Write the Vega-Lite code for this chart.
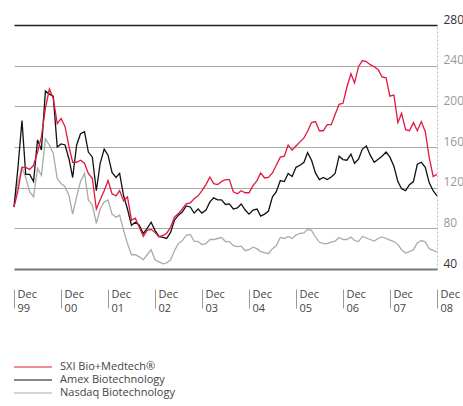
{
  "$schema": "https://vega.github.io/schema/vega-lite/v6.json",
  "width": 423,
  "height": 244,
  "autosize": "none",
  "padding": {"left": 14, "top": 25, "right": 26, "bottom": 137},
  "config": {"view": {"stroke": null}, "font": "Open Sans"},
  "data": {"values": [
    {"d": "1999-12-01", "sxi": 101, "amex": 101, "nasdaq": 101},
    {"d": "2000-01-01", "sxi": 117, "amex": 140, "nasdaq": 125},
    {"d": "2000-02-01", "sxi": 140, "amex": 186, "nasdaq": 140},
    {"d": "2000-03-01", "sxi": 140, "amex": 133, "nasdaq": 130},
    {"d": "2000-04-01", "sxi": 138, "amex": 133, "nasdaq": 116},
    {"d": "2000-05-01", "sxi": 142, "amex": 126, "nasdaq": 111},
    {"d": "2000-06-01", "sxi": 155, "amex": 167, "nasdaq": 139},
    {"d": "2000-07-01", "sxi": 170, "amex": 157, "nasdaq": 132},
    {"d": "2000-08-01", "sxi": 198, "amex": 215, "nasdaq": 168},
    {"d": "2000-09-01", "sxi": 217, "amex": 212, "nasdaq": 162},
    {"d": "2000-10-01", "sxi": 208, "amex": 210, "nasdaq": 154},
    {"d": "2000-11-01", "sxi": 183, "amex": 160, "nasdaq": 129},
    {"d": "2000-12-01", "sxi": 188, "amex": 163, "nasdaq": 124},
    {"d": "2001-01-01", "sxi": 180, "amex": 162, "nasdaq": 121},
    {"d": "2001-02-01", "sxi": 160, "amex": 148, "nasdaq": 112},
    {"d": "2001-03-01", "sxi": 145, "amex": 130, "nasdaq": 94},
    {"d": "2001-04-01", "sxi": 145, "amex": 162, "nasdaq": 111},
    {"d": "2001-05-01", "sxi": 147, "amex": 173, "nasdaq": 126},
    {"d": "2001-06-01", "sxi": 144, "amex": 175, "nasdaq": 134},
    {"d": "2001-07-01", "sxi": 134, "amex": 155, "nasdaq": 108},
    {"d": "2001-08-01", "sxi": 129, "amex": 150, "nasdaq": 103},
    {"d": "2001-09-01", "sxi": 99, "amex": 117, "nasdaq": 85},
    {"d": "2001-10-01", "sxi": 108, "amex": 144, "nasdaq": 99},
    {"d": "2001-11-01", "sxi": 117, "amex": 158, "nasdaq": 106},
    {"d": "2001-12-01", "sxi": 127, "amex": 152, "nasdaq": 108},
    {"d": "2002-01-01", "sxi": 114, "amex": 135, "nasdaq": 94},
    {"d": "2002-02-01", "sxi": 112, "amex": 130, "nasdaq": 91},
    {"d": "2002-03-01", "sxi": 117, "amex": 134, "nasdaq": 93},
    {"d": "2002-04-01", "sxi": 107, "amex": 112, "nasdaq": 78},
    {"d": "2002-05-01", "sxi": 111, "amex": 99, "nasdaq": 65},
    {"d": "2002-06-01", "sxi": 88, "amex": 83, "nasdaq": 54},
    {"d": "2002-07-01", "sxi": 90, "amex": 86, "nasdaq": 54},
    {"d": "2002-08-01", "sxi": 81, "amex": 83, "nasdaq": 52},
    {"d": "2002-09-01", "sxi": 72, "amex": 75, "nasdaq": 49},
    {"d": "2002-10-01", "sxi": 78, "amex": 80, "nasdaq": 54},
    {"d": "2002-11-01", "sxi": 79, "amex": 86, "nasdaq": 59},
    {"d": "2002-12-01", "sxi": 76, "amex": 78, "nasdaq": 49},
    {"d": "2003-01-01", "sxi": 71.5, "amex": 72, "nasdaq": 47},
    {"d": "2003-02-01", "sxi": 73, "amex": 71, "nasdaq": 45},
    {"d": "2003-03-01", "sxi": 75, "amex": 70, "nasdaq": 46},
    {"d": "2003-04-01", "sxi": 81, "amex": 76, "nasdaq": 49},
    {"d": "2003-05-01", "sxi": 91, "amex": 88, "nasdaq": 58},
    {"d": "2003-06-01", "sxi": 94.5, "amex": 93, "nasdaq": 65},
    {"d": "2003-07-01", "sxi": 99, "amex": 96, "nasdaq": 68},
    {"d": "2003-08-01", "sxi": 104, "amex": 102, "nasdaq": 73},
    {"d": "2003-09-01", "sxi": 105, "amex": 101, "nasdaq": 74},
    {"d": "2003-10-01", "sxi": 109, "amex": 95, "nasdaq": 67.5},
    {"d": "2003-11-01", "sxi": 112, "amex": 99, "nasdaq": 67},
    {"d": "2003-12-01", "sxi": 117, "amex": 95, "nasdaq": 64},
    {"d": "2004-01-01", "sxi": 123, "amex": 98, "nasdaq": 65},
    {"d": "2004-02-01", "sxi": 130.5, "amex": 106, "nasdaq": 69},
    {"d": "2004-03-01", "sxi": 124, "amex": 110, "nasdaq": 69},
    {"d": "2004-04-01", "sxi": 123, "amex": 108, "nasdaq": 70},
    {"d": "2004-05-01", "sxi": 126, "amex": 108, "nasdaq": 71},
    {"d": "2004-06-01", "sxi": 128, "amex": 103.5, "nasdaq": 67},
    {"d": "2004-07-01", "sxi": 128, "amex": 104, "nasdaq": 67},
    {"d": "2004-08-01", "sxi": 116, "amex": 99, "nasdaq": 63},
    {"d": "2004-09-01", "sxi": 114, "amex": 100, "nasdaq": 62},
    {"d": "2004-10-01", "sxi": 117, "amex": 104, "nasdaq": 62.5},
    {"d": "2004-11-01", "sxi": 115, "amex": 98, "nasdaq": 58},
    {"d": "2004-12-01", "sxi": 115, "amex": 94, "nasdaq": 59},
    {"d": "2005-01-01", "sxi": 122, "amex": 98, "nasdaq": 61.5},
    {"d": "2005-02-01", "sxi": 127, "amex": 99, "nasdaq": 60},
    {"d": "2005-03-01", "sxi": 134.5, "amex": 92, "nasdaq": 57},
    {"d": "2005-04-01", "sxi": 129.5, "amex": 94, "nasdaq": 56},
    {"d": "2005-05-01", "sxi": 130, "amex": 97, "nasdaq": 55},
    {"d": "2005-06-01", "sxi": 134.5, "amex": 111, "nasdaq": 60},
    {"d": "2005-07-01", "sxi": 142, "amex": 116, "nasdaq": 63},
    {"d": "2005-08-01", "sxi": 150, "amex": 127, "nasdaq": 71},
    {"d": "2005-09-01", "sxi": 151, "amex": 126, "nasdaq": 70},
    {"d": "2005-10-01", "sxi": 162, "amex": 134, "nasdaq": 72},
    {"d": "2005-11-01", "sxi": 157, "amex": 131, "nasdaq": 70},
    {"d": "2005-12-01", "sxi": 161, "amex": 140, "nasdaq": 73.5},
    {"d": "2006-01-01", "sxi": 165, "amex": 142, "nasdaq": 75},
    {"d": "2006-02-01", "sxi": 169, "amex": 145, "nasdaq": 75.5},
    {"d": "2006-03-01", "sxi": 175.5, "amex": 154.5, "nasdaq": 79},
    {"d": "2006-04-01", "sxi": 184, "amex": 147, "nasdaq": 78},
    {"d": "2006-05-01", "sxi": 185, "amex": 134.5, "nasdaq": 71.5},
    {"d": "2006-06-01", "sxi": 176, "amex": 128, "nasdaq": 66.5},
    {"d": "2006-07-01", "sxi": 176, "amex": 130, "nasdaq": 65},
    {"d": "2006-08-01", "sxi": 182, "amex": 128, "nasdaq": 65},
    {"d": "2006-09-01", "sxi": 182, "amex": 130.5, "nasdaq": 66.5},
    {"d": "2006-10-01", "sxi": 192, "amex": 134, "nasdaq": 67.5},
    {"d": "2006-11-01", "sxi": 202, "amex": 151, "nasdaq": 71},
    {"d": "2006-12-01", "sxi": 203, "amex": 147.6, "nasdaq": 69},
    {"d": "2007-01-01", "sxi": 219, "amex": 147, "nasdaq": 69},
    {"d": "2007-02-01", "sxi": 232, "amex": 153, "nasdaq": 71.5},
    {"d": "2007-03-01", "sxi": 223, "amex": 144, "nasdaq": 68},
    {"d": "2007-04-01", "sxi": 239, "amex": 148, "nasdaq": 67},
    {"d": "2007-05-01", "sxi": 245, "amex": 158, "nasdaq": 72},
    {"d": "2007-06-01", "sxi": 244, "amex": 161, "nasdaq": 70.5},
    {"d": "2007-07-01", "sxi": 241, "amex": 152, "nasdaq": 69},
    {"d": "2007-08-01", "sxi": 239, "amex": 145, "nasdaq": 67.5},
    {"d": "2007-09-01", "sxi": 236, "amex": 148, "nasdaq": 70},
    {"d": "2007-10-01", "sxi": 229, "amex": 151, "nasdaq": 71.5},
    {"d": "2007-11-01", "sxi": 228, "amex": 155, "nasdaq": 70},
    {"d": "2007-12-01", "sxi": 210, "amex": 150, "nasdaq": 68.5},
    {"d": "2008-01-01", "sxi": 211, "amex": 141, "nasdaq": 67},
    {"d": "2008-02-01", "sxi": 184, "amex": 126, "nasdaq": 64},
    {"d": "2008-03-01", "sxi": 193, "amex": 119, "nasdaq": 59},
    {"d": "2008-04-01", "sxi": 177, "amex": 117, "nasdaq": 55.7},
    {"d": "2008-05-01", "sxi": 176, "amex": 123, "nasdaq": 57},
    {"d": "2008-06-01", "sxi": 184, "amex": 126, "nasdaq": 59},
    {"d": "2008-07-01", "sxi": 176, "amex": 143, "nasdaq": 65.6},
    {"d": "2008-08-01", "sxi": 185, "amex": 145, "nasdaq": 68},
    {"d": "2008-09-01", "sxi": 175, "amex": 140, "nasdaq": 66.6},
    {"d": "2008-10-01", "sxi": 150, "amex": 125, "nasdaq": 60},
    {"d": "2008-11-01", "sxi": 131, "amex": 117, "nasdaq": 58.4},
    {"d": "2008-12-01", "sxi": 133, "amex": 112, "nasdaq": 56.7}
  ]},
  "encoding": {
    "x": {
      "field": "d",
      "type": "temporal",
      "scale": {
        "type": "utc",
        "domain": [
          {"year": 1999, "month": 12, "date": 1, "utc": true},
          {"year": 2008, "month": 12, "date": 1, "utc": true}
        ]
      },
      "axis": {
        "title": null,
        "values": [
          {"year": 1999, "month": 12, "date": 1, "utc": true},
          {"year": 2000, "month": 12, "date": 1, "utc": true},
          {"year": 2001, "month": 12, "date": 1, "utc": true},
          {"year": 2002, "month": 12, "date": 1, "utc": true},
          {"year": 2003, "month": 12, "date": 1, "utc": true},
          {"year": 2004, "month": 12, "date": 1, "utc": true},
          {"year": 2005, "month": 12, "date": 1, "utc": true},
          {"year": 2006, "month": 12, "date": 1, "utc": true},
          {"year": 2007, "month": 12, "date": 1, "utc": true},
          {"year": 2008, "month": 12, "date": 1, "utc": true}
        ],
        "labelExpr": "['Dec', utcFormat(datum.value, '%y')]",
        "offset": 20,
        "domain": false,
        "grid": false,
        "tickSize": 19,
        "tickColor": "#999999",
        "tickWidth": 1,
        "labelAlign": "left",
        "labelBaseline": "top",
        "labelPadding": -19.5,
        "labelOffset": 3,
        "labelLineHeight": 14,
        "labelFontSize": 11,
        "labelColor": "#444444",
        "labelFlush": false,
        "labelOverlap": false
      }
    },
    "color": {
      "scale": {
        "domain": ["SXI Bio+Medtech®", "Amex Biotechnology", "Nasdaq Biotechnology"],
        "range": ["#e2173d", "#111111", "#aaaaaa"]
      },
      "legend": {
        "title": null,
        "orient": "none",
        "legendX": 13,
        "legendY": 336,
        "padding": 0,
        "symbolType": "M-3.8,0H3.8",
        "symbolSize": 100,
        "symbolStrokeWidth": 1.2,
        "labelOffset": 21,
        "rowPadding": 2,
        "labelFontSize": 11,
        "labelColor": "#444444"
      }
    }
  },
  "layer": [
    {
      "mark": {"type": "line", "strokeWidth": 1.3},
      "encoding": {
        "y": {
          "field": "nasdaq",
          "type": "quantitative",
          "scale": {"domain": [40, 280], "nice": false, "zero": false},
          "axis": {
            "title": null,
            "orient": "right",
            "values": [40, 60, 80, 100, 120, 140, 160, 180, 200, 220, 240, 260, 280],
            "labelExpr": "datum.value % 40 === 0 ? datum.label : ''",
            "ticks": false,
            "tickSize": 0,
            "domain": true,
            "domainColor": "#bbbbbb",
            "domainDash": [2, 2],
            "grid": true,
            "gridColor": {"condition": [{"test": "datum.value === 280", "value": "#222222"}, {"test": "datum.value === 40", "value": "#777777"}, {"test": "datum.value % 40 === 0", "value": "#aaaaaa"}], "value": "#888888"},
            "gridDash": {"condition": {"test": "datum.value % 40 === 0", "value": []}, "value": [1.5, 1.5]},
            "gridWidth": {"condition": [{"test": "datum.value === 40", "value": 2}, {"test": "datum.value === 280", "value": 1.3}], "value": 1},
            "labelFontSize": 12,
            "labelPadding": 6,
            "labelBaseline": "alphabetic",
            "labelOffset": -2,
            "labelColor": {"condition": {"test": "datum.value === 280 || datum.value === 40", "value": "#333333"}, "value": "#999999"}
          }
        },
        "color": {"datum": "Nasdaq Biotechnology"}
      }
    },
    {
      "mark": {"type": "line", "strokeWidth": 1.3},
      "encoding": {
        "y": {"field": "amex", "type": "quantitative"},
        "color": {"datum": "Amex Biotechnology"}
      }
    },
    {
      "mark": {"type": "line", "strokeWidth": 1.3},
      "encoding": {
        "y": {"field": "sxi", "type": "quantitative"},
        "color": {"datum": "SXI Bio+Medtech®"}
      }
    }
  ]
}
